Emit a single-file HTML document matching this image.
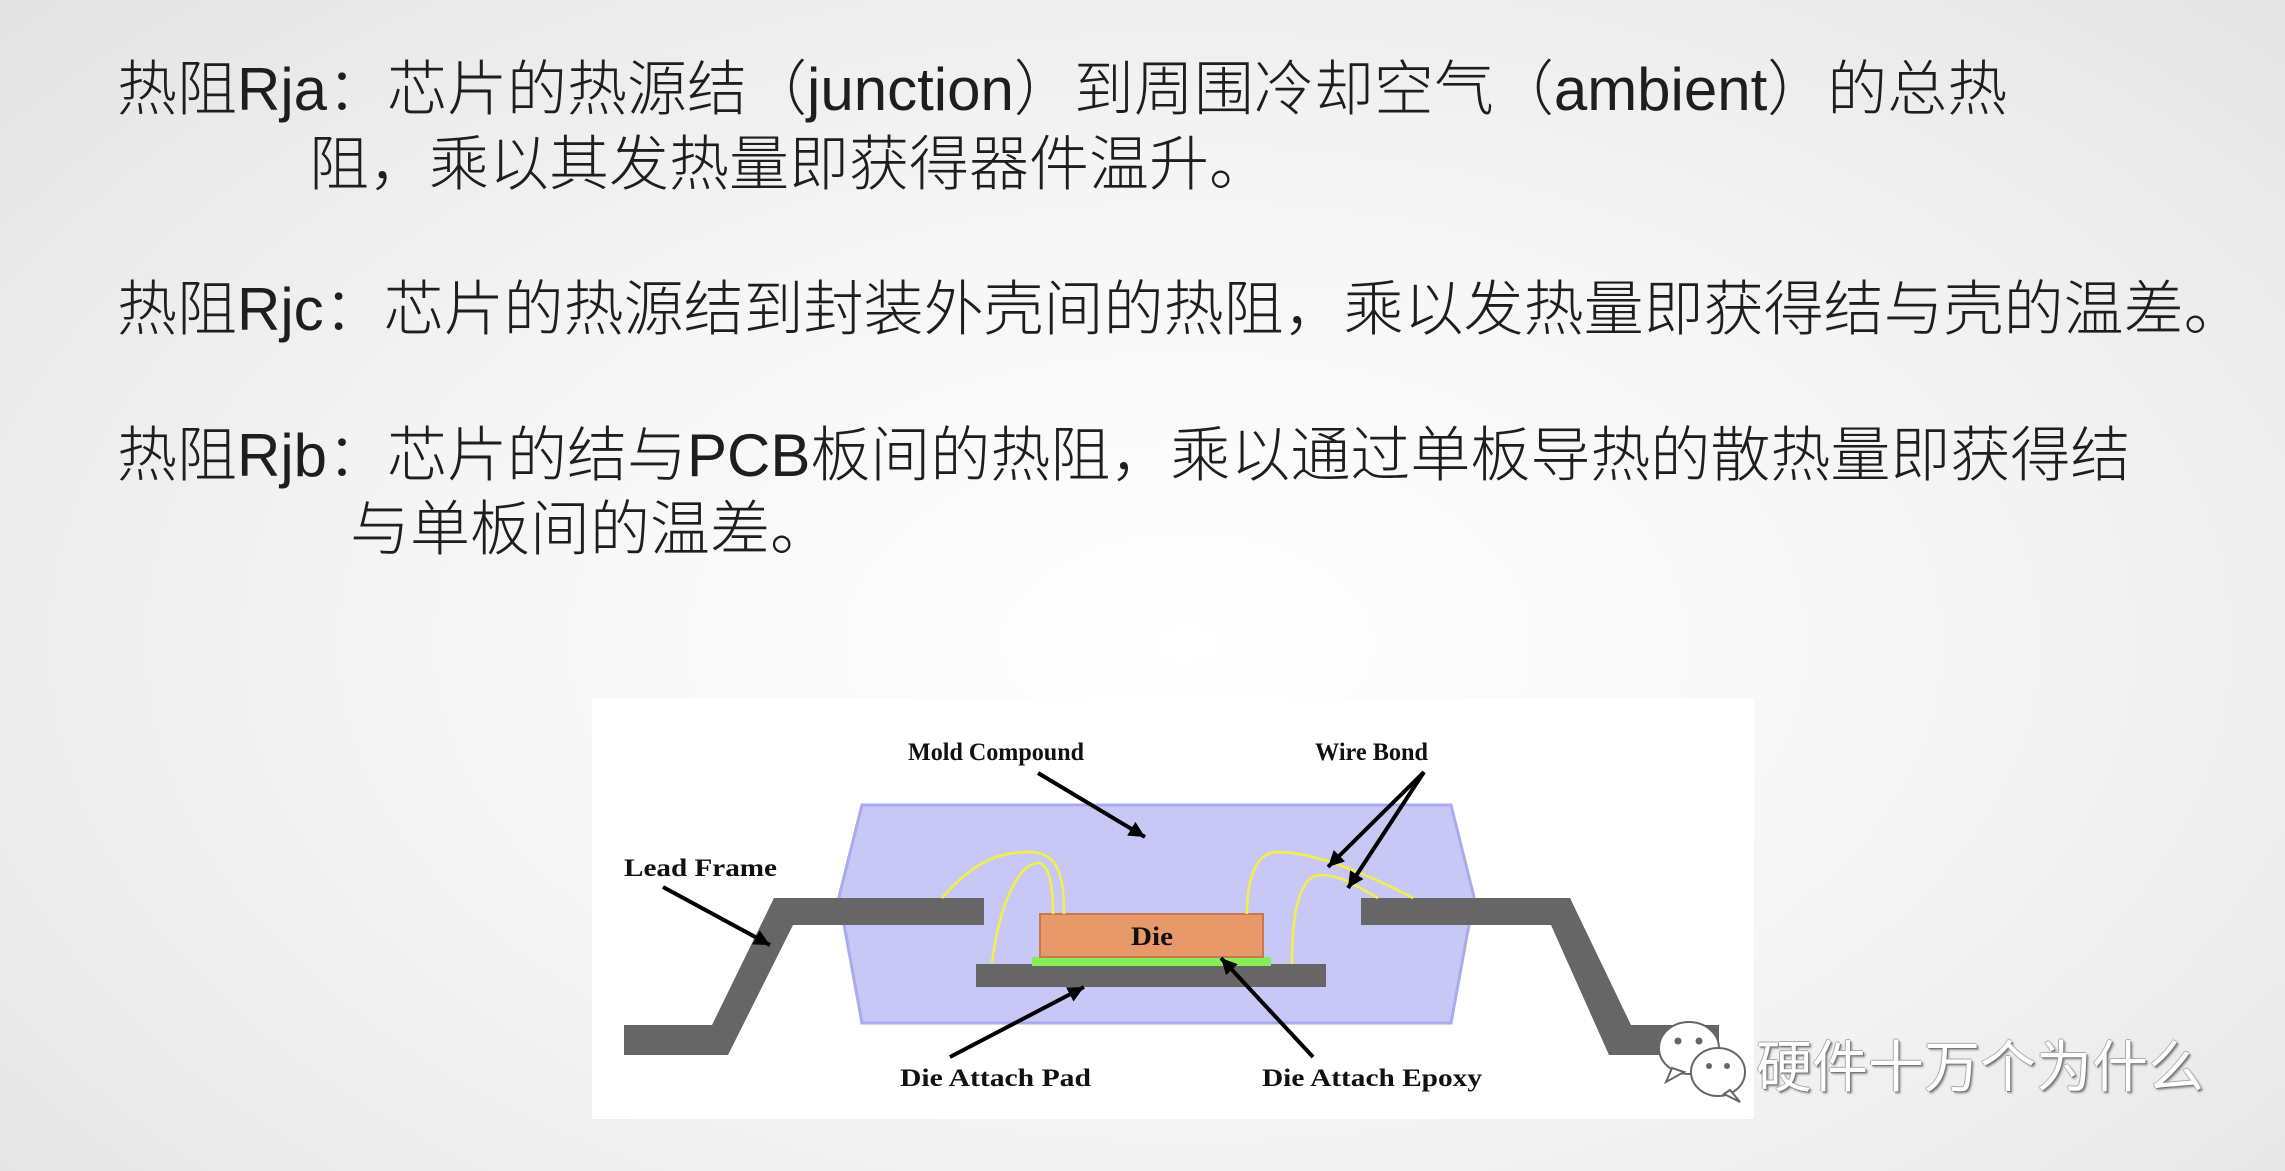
<!DOCTYPE html>
<html><head><meta charset="utf-8"><style>
html,body{margin:0;padding:0}
body{width:2285px;height:1171px;overflow:hidden;position:relative;background:radial-gradient(ellipse 70% 80% at 52% 55%,#ffffff 0%,#f6f6f6 45%,#e4e4e4 100%);}
.t{position:absolute;font-family:"Liberation Sans","Noto Sans CJK SC",sans-serif;font-size:60px;line-height:60px;color:#1e1e1e;white-space:nowrap;font-weight:300}
.wm{position:absolute;left:1756px;top:1036px;font-family:"Liberation Sans","Noto Sans CJK SC",sans-serif;font-size:56px;line-height:64px;color:#fff;white-space:nowrap;text-shadow:1px 1px 0 #777,-1px 0 0 #aaa,0 -1px 0 #aaa,2px 2px 2px #888}
</style></head><body>
<div class="t" style="left:117px;top:60px">热阻Rja：芯片的热源结（junction）到周围冷却空气（ambient）的总热</div>
<div class="t" style="left:309px;top:135px">阻，乘以其发热量即获得器件温升。</div>
<div class="t" style="left:117px;top:280px">热阻Rjc：芯片的热源结到封装外壳间的热阻，乘以发热量即获得结与壳的温差。</div>
<div class="t" style="left:117px;top:426px">热阻Rjb：芯片的结与PCB板间的热阻，乘以通过单板导热的散热量即获得结</div>
<div class="t" style="left:350px;top:500px">与单板间的温差。</div>
<svg width="2285" height="1171" style="position:absolute;left:0;top:0" xmlns="http://www.w3.org/2000/svg">
<defs>
<marker id="b" viewBox="0 0 10 10" markerWidth="22" markerHeight="16" refX="10" refY="5" orient="auto" markerUnits="userSpaceOnUse"><path d="M0,0 L10,5 L0,10 z" fill="#000"/></marker></defs>
<rect x="592" y="698" width="1162" height="421" fill="#fff"/>
<polygon points="862,805 1451,805 1474,897 1451,1023 862,1023 839,897" fill="#c8c8f6" stroke="#aaaaee" stroke-width="3"/>
<polygon points="984,898 774,898 712,1025 624,1025 624,1055 728,1055 793,925 984,925" fill="#666"/>
<polygon points="1361,898 1570,898 1631,1025 1719,1025 1719,1055 1609,1055 1551,925 1361,925" fill="#666"/>
<rect x="976" y="964" width="350" height="23" fill="#666"/>
<rect x="1032" y="957" width="239" height="9" fill="#88ee55"/>
<rect x="1040" y="914" width="223" height="43" fill="#e8996a" stroke="#c87850" stroke-width="2"/>
<text x="1152" y="945" font-family="Liberation Serif,serif" font-weight="bold" font-size="26" text-anchor="middle" fill="#111" textLength="42" lengthAdjust="spacingAndGlyphs">Die</text>
<g fill="none" stroke="#f4f040" stroke-width="2.5">
<path d="M942,898 C975,860 1000,852 1030,852 C1060,852 1064,880 1064,914"/>
<path d="M992,963 C1000,900 1020,863 1038,863 C1050,863 1053,890 1053,914"/>
<path d="M1247,914 C1247,880 1255,852 1278,852 C1310,852 1360,870 1413,898"/>
<path d="M1292,964 C1292,910 1300,875 1321,875 C1340,875 1355,885 1378,898"/>
</g>
<g font-family="Liberation Serif,serif" font-weight="bold" font-size="25" fill="#111">
<text x="908" y="760" textLength="176" lengthAdjust="spacingAndGlyphs">Mold Compound</text>
<text x="1315" y="760" textLength="113" lengthAdjust="spacingAndGlyphs">Wire Bond</text>
<text x="624" y="876" textLength="153" lengthAdjust="spacingAndGlyphs">Lead Frame</text>
<text x="900" y="1086" textLength="191" lengthAdjust="spacingAndGlyphs">Die Attach Pad</text>
<text x="1262" y="1086" textLength="220" lengthAdjust="spacingAndGlyphs">Die Attach Epoxy</text>
</g>
<g stroke="#000" stroke-width="4" fill="none" marker-end="url(#b)">
<line x1="1038" y1="773" x2="1145" y2="837"/>
<line x1="1424" y1="772" x2="1328" y2="867"/>
<line x1="1424" y1="772" x2="1348" y2="888"/>
<line x1="663" y1="887" x2="770" y2="945"/>
<line x1="950" y1="1057" x2="1084" y2="987"/>
<line x1="1313" y1="1057" x2="1221" y2="958"/>
</g>
<g stroke="#666" stroke-width="2" fill="#fff">
<ellipse cx="1689" cy="1048" rx="30" ry="26"/>
<path d="M1672,1068 L1666,1082 L1684,1072 z"/>
<ellipse cx="1718" cy="1072" rx="27" ry="24"/>
<path d="M1730,1090 L1740,1102 L1724,1094 z"/>
</g>
<g fill="#666"><circle cx="1678" cy="1041" r="3.5"/><circle cx="1699" cy="1041" r="3.5"/><circle cx="1709" cy="1066" r="3"/><circle cx="1727" cy="1066" r="3"/></g>
</svg>
<div class="wm">硬件十万个为什么</div>
</body></html>
